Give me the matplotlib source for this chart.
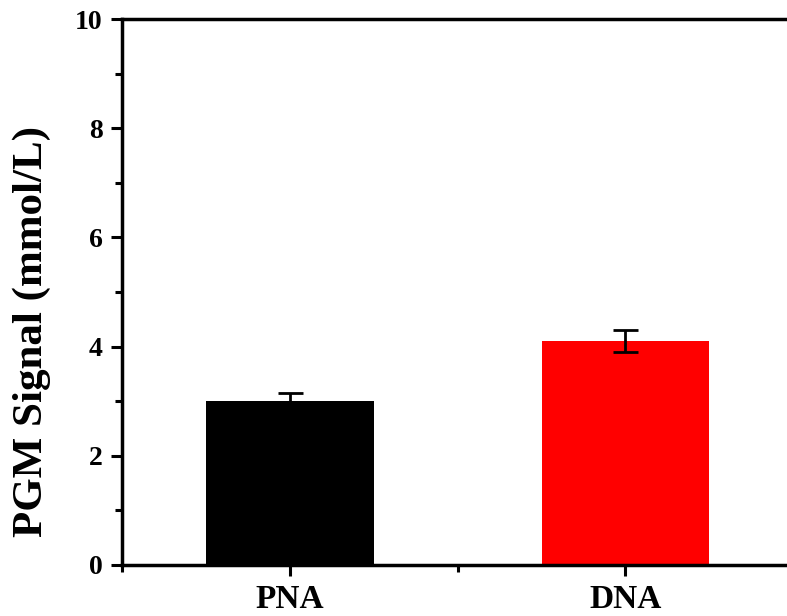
import matplotlib.pyplot as plt
from matplotlib import font_manager as fm
from matplotlib.ticker import MultipleLocator

# data
categories = ['PNA', 'DNA']
values = [3.0, 4.1]
errors = [0.15, 0.2]
colors = ['black', 'red']

bold_path = fm.findfont(fm.FontProperties(family='Liberation Serif', weight='bold'))
def fp(size):
    return fm.FontProperties(fname=bold_path, size=size)

fig = plt.figure(figsize=(7.87, 6.16), dpi=100)
ax = fig.add_axes([0.155, 0.083, 0.853, 0.886])

x = [1, 2]
ax.bar(x, values, width=0.5, color=colors, zorder=2)
ax.errorbar(x, values, yerr=errors, fmt='none', ecolor='black',
            elinewidth=2, capsize=9, capthick=2, zorder=3)

ax.set_xlim(0.5, 2.5)
ax.set_ylim(0, 10)
ax.set_xticks(x)
ax.set_xticklabels(categories, fontproperties=fp(24))
ax.xaxis.set_minor_locator(MultipleLocator(0.5))
ax.set_yticks([0, 2, 4, 6, 8, 10])
ax.set_yticklabels(['0', '2', '4', '6', '8', '10'], fontproperties=fp(20))
ax.yaxis.set_minor_locator(MultipleLocator(1))

ax.tick_params(which='major', direction='out', length=8, width=2.2, pad=6)
ax.tick_params(which='minor', direction='out', length=5, width=2.2)
for s in ax.spines.values():
    s.set_linewidth(2.5)

ax.set_ylabel('PGM Signal (mmol/L)', fontproperties=fp(31))
ax.yaxis.set_label_coords(-0.106, 0.427)

fig.savefig('out.png', dpi=100)
